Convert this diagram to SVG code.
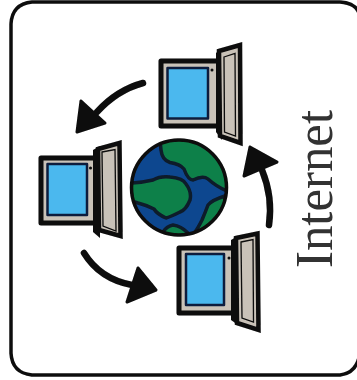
<svg xmlns="http://www.w3.org/2000/svg" width="357" height="380" viewBox="0 0 357 380">
<style>
.body{fill:#c9c2b8;stroke:#0a0a0a;stroke-width:5;stroke-linejoin:round}
.screen{fill:#4bb8ee;stroke:#0b1f3c;stroke-width:2.5;stroke-linejoin:round}
.panel{fill:#c9c2b8;stroke:#0a0a0a;stroke-width:4.5;stroke-linejoin:miter}
.door{fill:#c9c2b8;stroke:#0a0a0a;stroke-width:1.3}
.land{fill:#0e8048;stroke:#0a1a2a;stroke-width:3.5;stroke-linejoin:round}
.line{fill:none;stroke:#0a0a0a;stroke-width:6.5;stroke-linecap:round}
.head{fill:#0a0a0a;stroke:#0a0a0a;stroke-width:3;stroke-linejoin:round}
</style>
<defs>
<clipPath id="gc"><circle cx="179" cy="187.5" r="47"/></clipPath>
<filter id="soft" x="-2%" y="-2%" width="104%" height="104%"><feGaussianBlur stdDeviation="0.5"/></filter>
</defs>
<rect width="357" height="380" fill="#fff"/>
<g filter="url(#soft)">
<path id="frame" d="M360 353Q357 373 340 375L32 375Q12 373 11 353L11 24Q12 4 32 2L340 2Q357 3 360 16" fill="none" stroke="#0a0a0a" stroke-width="3.5"/>

<g id="computer-top">
<rect class="body" x="161" y="61" width="61" height="65"/>
<rect class="screen" x="167.500" y="68" width="40.500" height="50.500"/>
<circle cx="212" cy="70" r="1.500" fill="#0a0a0a"/>
<polygon points="216,53 216,132 222,140 222,48" fill="#0a0a0a"/>
<polygon class="panel" points="219,51 240,45 240.500,143 220,136"/>
<polygon class="door" points="224,57 235,53.500 235.500,136 224.500,132"/>
</g>

<g id="computer-left">
<rect class="body" x="41" y="158" width="60" height="65"/>
<rect class="screen" x="47.500" y="164" width="39.500" height="51"/>
<circle cx="90.500" cy="168" r="1.500" fill="#0a0a0a"/>
<polygon points="93,150 93,232 100,238 100,146" fill="#0a0a0a"/>
<polygon class="panel" points="98,149 119.500,143 120.500,236 99,230"/>
<polygon class="door" points="102,152 115,149.500 116,231 103,226"/>
</g>

<g id="computer-bottom">
<rect class="body" x="179" y="248" width="59" height="65"/>
<rect class="screen" x="186" y="254" width="38" height="51"/>
<circle cx="229" cy="258" r="1.500" fill="#0a0a0a"/>
<polygon points="231,240 231,320 238,325 238,236" fill="#0a0a0a"/>
<polygon class="panel" points="236,238 257.500,233.500 258.500,330 237,323"/>
<polygon class="door" points="241,242 253,239.500 253.500,322 242,318"/>
</g>

<g id="globe">
<circle cx="179" cy="187.500" r="47.500" fill="#11478f"/>
<g clip-path="url(#gc)">
<path class="land" d="M160 140L161 150Q162 160 170 162.500Q180 164 184 169Q188 180 193 180Q203 175 208 179Q218 188 230 192L235 130L160 130Z"/>
<path class="land" d="M128 183Q140 183 153 180Q160 176 170 177Q183 178 186 184Q192 192 190 200Q186 210 180 212Q170 217 166 218Q157 214 154 209Q146 205 138 203L128 200Z"/>
<path class="land" d="M225 196Q212 200 208 205Q205 213 202 220Q198 228 195 232L225 240Z"/>
<path class="land" d="M163 232Q167 226 173 225Q181 226 188 233L175 245Z"/>
</g>
<circle cx="179" cy="187.500" r="47.500" fill="none" stroke="#0a0a0a" stroke-width="3.5"/>
</g>

<g id="connectors">
<path class="line" d="M143 83Q117 90 97 112"/>
<polygon class="head" points="81,101 105,123 77,132"/>
<path class="line" d="M84 253Q100 279 132 285"/>
<polygon class="head" points="138,268 156,290 127,302"/>
<path class="line" d="M269 225Q273 197 262 170"/>
<polygon class="head" points="250,147 277,162 244,176"/>
</g>

<text id="label" transform="translate(332 268) rotate(-90)" font-family="'Liberation Serif',serif" font-size="52" textLength="158" lengthAdjust="spacingAndGlyphs" fill="#333">Internet</text>
</g>
</svg>
